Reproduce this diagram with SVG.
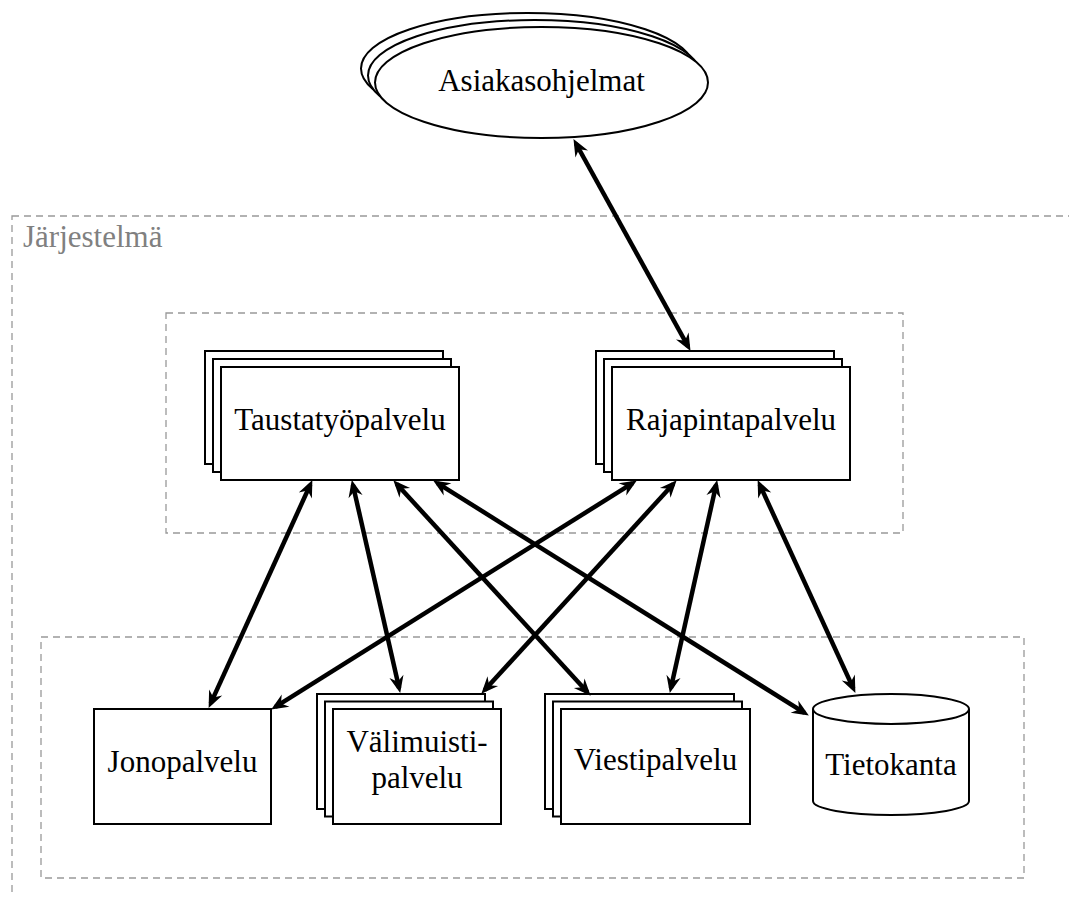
<svg xmlns="http://www.w3.org/2000/svg" width="1069" height="897" viewBox="0 0 1069 897">
  <defs>
    <marker id="ah" markerUnits="userSpaceOnUse" markerWidth="26" markerHeight="22" viewBox="-17 -11 26 22" refX="0" refY="0" orient="auto-start-reverse">
      <path d="M5,0 L-12,-7.2 L-6.5,0 L-12,7.2 Z" fill="#000"/>
    </marker>
  </defs>
  <style>
    .grp { fill: none; stroke: #999999; stroke-width: 1.3; stroke-dasharray: 7 5; }
    .box { fill: #fff; stroke: #000; stroke-width: 2; }
    .lbl { font-family: "Liberation Serif", "Times New Roman", serif; font-size: 31px; fill: #000; text-anchor: middle; }
    .grplbl { font-family: "Liberation Serif", "Times New Roman", serif; font-size: 31px; fill: #808080; }
    .conn line { stroke: #000; stroke-width: 4.5; marker-start: url(#ah); marker-end: url(#ah); }
  </style>
  <rect fill="#fff" x="0" y="0" width="1069" height="897"/>

  <g id="jarjestelma">
    <rect class="grp" x="12" y="216" width="1100" height="720"/>
    <text class="grplbl" x="23" y="247">Järjestelmä</text>
  </g>
  <g id="upper-group">
    <rect class="grp" x="166" y="313" width="737" height="220"/>
  </g>
  <g id="lower-group">
    <rect class="grp" x="41" y="637" width="983" height="241"/>
  </g>

  <g id="asiakasohjelmat">
    <ellipse class="box" cx="527.5" cy="68.5" rx="166.5" ry="55.5"/>
    <ellipse class="box" cx="534.5" cy="75.5" rx="166.5" ry="55.5"/>
    <ellipse class="box" cx="541.5" cy="82.5" rx="166.5" ry="55.5"/>
    <text class="lbl" x="541.5" y="91">Asiakasohjelmat</text>
  </g>

  <g id="taustatyopalvelu">
    <rect class="box" x="205" y="351" width="238" height="113"/>
    <rect class="box" x="213" y="359" width="238" height="113"/>
    <rect class="box" x="221" y="367" width="238" height="113"/>
    <text class="lbl" x="340" y="430">Taustatyöpalvelu</text>
  </g>

  <g id="rajapintapalvelu">
    <rect class="box" x="596" y="351" width="238" height="113"/>
    <rect class="box" x="604" y="359" width="238" height="113"/>
    <rect class="box" x="612" y="367" width="238" height="113"/>
    <text class="lbl" x="731" y="430">Rajapintapalvelu</text>
  </g>

  <g id="jonopalvelu">
    <rect class="box" x="94" y="709" width="177" height="115"/>
    <text class="lbl" x="182.5" y="772">Jonopalvelu</text>
  </g>

  <g id="valimuistipalvelu">
    <rect class="box" x="317" y="694" width="168" height="115"/>
    <rect class="box" x="325" y="701.5" width="168" height="115"/>
    <rect class="box" x="333" y="709" width="168" height="115"/>
    <text class="lbl" x="417" y="752">Välimuisti-</text>
    <text class="lbl" x="417" y="788">palvelu</text>
  </g>

  <g id="viestipalvelu">
    <rect class="box" x="545" y="694" width="189" height="115"/>
    <rect class="box" x="553" y="701.5" width="189" height="115"/>
    <rect class="box" x="561" y="709" width="189" height="115"/>
    <text class="lbl" x="655.5" y="770">Viestipalvelu</text>
  </g>

  <g id="tietokanta">
    <path class="box" d="M813,709 L813,801 A78,14 0 0 0 969,801 L969,709 A78,15 0 0 0 813,709 Z"/>
    <path class="box" fill="none" d="M813,709 A78,15 0 0 0 969,709"/>
    <text class="lbl" x="891" y="775">Tietokanta</text>
  </g>

  <g id="connectors" class="conn">
    <line x1="575.9" y1="143.5" x2="688.1" y2="346.5"/>
    <line x1="310.3" y1="484.6" x2="210.7" y2="703.4"/>
    <line x1="352.9" y1="484.9" x2="399.1" y2="688.1"/>
    <line x1="396.7" y1="484.0" x2="587.3" y2="692.1"/>
    <line x1="437.4" y1="483.1" x2="804.6" y2="712.9"/>
    <line x1="632.6" y1="483.1" x2="275.4" y2="706.9"/>
    <line x1="673.3" y1="484.0" x2="484.7" y2="690.0"/>
    <line x1="716.1" y1="484.9" x2="670.9" y2="688.1"/>
    <line x1="759.7" y1="484.6" x2="853.3" y2="688.4"/>
  </g>
</svg>
